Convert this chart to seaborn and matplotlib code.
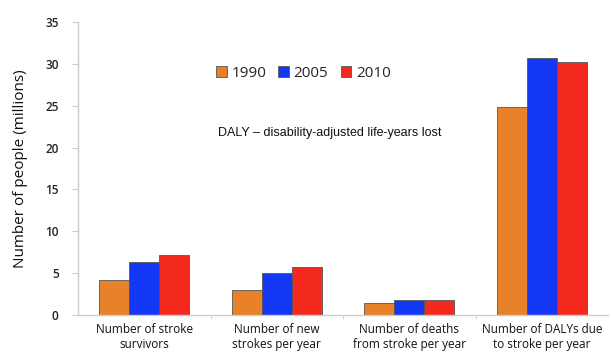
import matplotlib
matplotlib.use("Agg")
import matplotlib.pyplot as plt
import seaborn as sns
import pandas as pd
from matplotlib.patches import Patch

# values (millions)
measures = [
    "Number of stroke\nsurvivors",
    "Number of new\nstrokes per year",
    "Number of deaths\nfrom stroke per year",
    "Number of DALYs due\nto stroke per year",
]
years = ["1990", "2005", "2010"]
vals_1990 = [4.2, 3.0, 1.5, 24.9]
vals_2005 = [6.3, 5.0, 1.75, 30.7]
vals_2010 = [7.2, 5.7, 1.75, 30.2]
year_colors = ["#E8822A", "#1438F5", "#F42A1E"]

df = pd.DataFrame({
    "measure": measures * 3,
    "year": [y for y in years for _ in measures],
    "value": vals_1990 + vals_2005 + vals_2010,
})

sns.set_style("white")
plt.rcParams["font.family"] = ["Open Sans", "DejaVu Sans"]

fig = plt.figure(figsize=(6.12, 3.56), dpi=100)
ax = fig.add_axes([0.1275, 0.115, 0.866, 0.823])

sns.barplot(
    data=df, x="measure", y="value", hue="year",
    palette=year_colors, saturation=1, width=0.68, gap=0,
    edgecolor="#555555", linewidth=0.6, ax=ax, legend=False,
)

ax.set_xlim(-0.5, 3.5)
ax.set_ylim(0, 35)
ax.set_yticks(range(0, 36, 5))
ax.set_xlabel("")
ax.set_ylabel("Number of people (millions)", fontsize=11, color="#111111", labelpad=12)

for s in ["top", "right"]:
    ax.spines[s].set_visible(False)
for s in ["left", "bottom"]:
    ax.spines[s].set_color("#cccccc")
    ax.spines[s].set_linewidth(1.0)

ax.tick_params(axis="y", length=4, color="#cccccc", labelsize=8.5, labelcolor="#222222", pad=10, left=True)
ax.tick_params(axis="x", length=0, labelsize=8.5, labelcolor="#111111", pad=6)
ax.set_xticks([0.5, 1.5, 2.5], minor=True)
ax.tick_params(axis="x", which="minor", length=3, color="#cccccc", bottom=True)
for lab in ax.get_yticklabels():
    lab.set_fontweight("semibold")

handles = [Patch(facecolor=c, edgecolor="#555555", linewidth=0.6) for c in year_colors]
ax.legend(handles, years, ncol=3, frameon=False, loc="center",
          bbox_to_anchor=(0.425, 0.825), fontsize=11,
          handlelength=0.7, handleheight=0.7, handletextpad=0.3, columnspacing=0.8)

ax.text(0.475, 0.62, "DALY \u2013 disability-adjusted life-years lost",
        transform=ax.transAxes, ha="center", va="center",
        fontsize=9, family="Liberation Sans", color="#111111")

fig.savefig("out.png", dpi=100)
